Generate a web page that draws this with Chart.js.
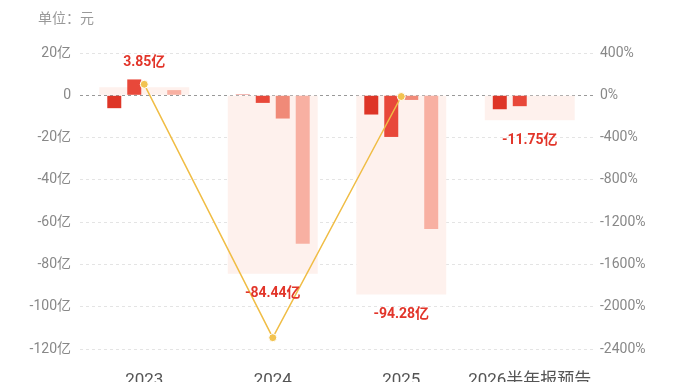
<!DOCTYPE html>
<html>
<head>
<meta charset="utf-8">
<script src="https://cdn.jsdelivr.net/npm/chart.js@4.4.1/dist/chart.umd.min.js"></script>
<style>
  html, body { margin: 0; padding: 0; background: #fff; overflow: hidden; }
  #wrap { position: relative; width: 680px; height: 400px; }
</style>
</head>
<body>
<div id="wrap"><canvas id="chart"></canvas></div>
<script>
const years = ['2023', '2024', '2025', '2026半年报预告'];
// 全年 / 半年 净利润（亿）
const totals = [3.85, -84.44, -94.28, -11.75];
const totalLabels = ['3.85亿', '-84.44亿', '-94.28亿', '-11.75亿'];
// 单季度（亿）
const q1 = [-6.1, 0.4, -9.1, -6.6];
const q2 = [7.5, -3.6, -19.7, -5.15];
const q3 = [0, -11.0, -2.2, null];
const q4 = [2.45, -70.2, -63.3, null];
// 同比增长（%）
const growth = [104, -2293, -11.65, null];

const leftTicks = [20, 0, -20, -40, -60, -80, -100, -120];
const rightTicks = [400, 0, -400, -800, -1200, -1600, -2000, -2400];

const FONT = 'Roboto, "Noto Sans CJK SC", sans-serif';

const totalLabelPlugin = {
  id: 'totalLabel',
  afterDatasetsDraw(chart) {
    const { ctx } = chart;
    const meta = chart.getDatasetMeta(0);
    ctx.save();
    ctx.font = 'bold 14px ' + FONT;
    ctx.fillStyle = '#e2352a';
    ctx.textAlign = 'center';
    ctx.textBaseline = 'middle';
    meta.data.forEach((bar, i) => {
      const v = totals[i];
      const y = v >= 0 ? bar.y - 25 : bar.y + 20;
      ctx.fillText(totalLabels[i], bar.x, y);
    });
    ctx.restore();
  }
};

const unitPlugin = {
  id: 'unit',
  afterDraw(chart) {
    const { ctx } = chart;
    ctx.save();
    ctx.font = '14px ' + FONT;
    ctx.fillStyle = '#999';
    ctx.textBaseline = 'middle';
    ctx.fillText('单位：元', 38, 19);
    ctx.restore();
  }
};

const quarterBar = (data, color) => ({
  type: 'bar',
  data,
  backgroundColor: color,
  yAxisID: 'y',
  categoryPercentage: 0.622,
  barPercentage: 0.7,
  order: 1,
});

new Chart(document.getElementById('chart'), {
  data: {
    labels: years,
    datasets: [
      {
        type: 'bar',
        data: totals,
        backgroundColor: '#fef1ed',
        yAxisID: 'y',
        grouped: false,
        categoryPercentage: 0.7,
        barPercentage: 1,
        order: 2,
      },
      quarterBar(q1, '#de3527'),
      quarterBar(q2, '#e8483a'),
      quarterBar(q3, '#f08a78'),
      quarterBar(q4, '#f8b0a2'),
      {
        type: 'line',
        data: growth,
        yAxisID: 'y2',
        borderColor: '#f0bd45',
        borderWidth: 1.5,
        pointRadius: 4,
        pointBackgroundColor: '#f2c350',
        pointBorderColor: '#fff',
        pointBorderWidth: 1,
        tension: 0,
        order: 0,
      },
    ],
  },
  options: {
    responsive: true,
    maintainAspectRatio: false,
    animation: false,
    layout: { padding: { top: 53, bottom: 0, left: 0, right: 0 } },
    plugins: {
      legend: { display: false },
      tooltip: { enabled: false },
    },
    scales: {
      x: {
        grid: { display: false },
        border: { display: false },
        ticks: {
          color: '#555',
          font: { size: 17, family: FONT },
          maxRotation: 0,
          autoSkip: false,
          padding: 14,
        },
        afterFit(scale) { scale.height = 51; },
      },
      y: {
        position: 'left',
        min: -120,
        max: 20,
        afterBuildTicks(scale) { scale.ticks = leftTicks.map(v => ({ value: v })); },
        grid: {
          color: ctx => (ctx.tick && ctx.tick.value === 0 ? '#999' : '#e4e4e4'),
          drawTicks: false,
        },
        border: { display: false, dash: [3, 3] },
        ticks: {
          color: '#888',
          font: { size: 14, family: FONT },
          padding: 9,
          callback: v => (v === 0 ? '0' : v + '亿'),
        },
        afterFit(scale) { scale.width = 80; },
      },
      y2: {
        position: 'right',
        min: -2400,
        max: 400,
        afterBuildTicks(scale) { scale.ticks = rightTicks.map(v => ({ value: v })); },
        grid: { drawOnChartArea: false, drawTicks: false },
        border: { display: false },
        ticks: {
          color: '#888',
          font: { size: 14, family: FONT },
          padding: 6,
          callback: v => v + '%',
        },
        afterFit(scale) { scale.width = 86; },
      },
    },
  },
  plugins: [totalLabelPlugin, unitPlugin],
});
</script>
</body>
</html>
